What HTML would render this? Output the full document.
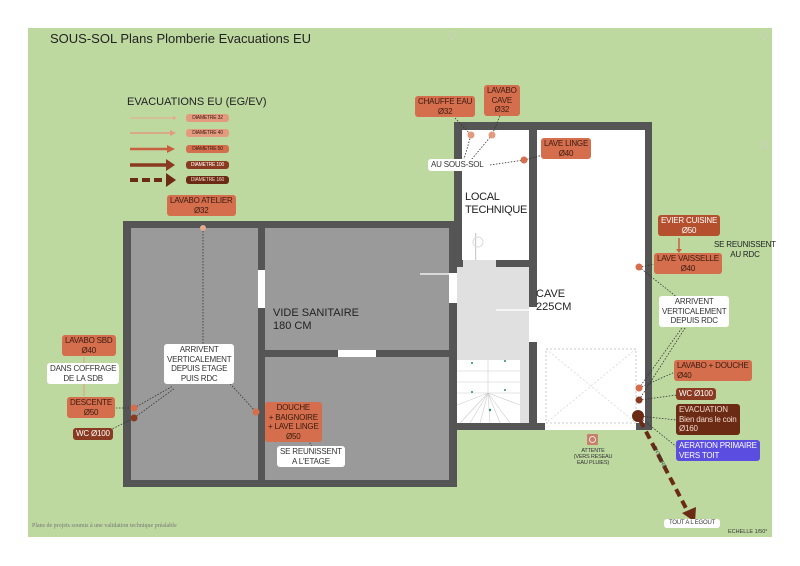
<!DOCTYPE html>
<html><head><meta charset="utf-8"><style>
body{margin:0;width:800px;height:566px;background:#fff;position:relative;overflow:hidden;font-family:"Liberation Sans",sans-serif}
.a{position:absolute}
.l{position:absolute;font-size:8px;line-height:9.5px;text-align:center;border-radius:3px;padding:1px 3px;box-sizing:border-box;color:#3a1a10;white-space:nowrap;letter-spacing:-0.2px}
.s{background:#e39a7f}.m{background:#d46e4c}.d{background:#8a3a20;color:#fff}.dd{background:#6b2a14;color:#f3d9cc}
.w{background:#fff;color:#333}
</style></head><body>
<div class="a" style="left:28px;top:28px;width:744px;height:509px;background:#bdd9a0"></div>
<svg class="a" style="left:0;top:0" width="800" height="566">
<rect x="123" y="221" width="334" height="266" fill="#555"/>
<rect x="131" y="228" width="127" height="252" fill="#9a9a9a"/>
<rect x="265" y="228" width="184" height="122" fill="#9a9a9a"/>
<rect x="265" y="357" width="184" height="123" fill="#9a9a9a"/>
<rect x="258" y="270" width="7" height="38" fill="#fff"/>
<rect x="338" y="350" width="38" height="7" fill="#fff"/>
<rect x="454" y="122" width="198" height="308" fill="#555"/>
<rect x="462" y="130" width="67" height="130" fill="#fff"/>
<rect x="537" y="130" width="108" height="293" fill="#fff"/>
<rect x="457" y="267" width="72" height="156" fill="#e0e0e0"/>
<rect x="463" y="260" width="33" height="7" fill="#e0e0e0"/>
<rect x="449" y="273" width="8" height="30" fill="#fff"/>
<rect x="529" y="307" width="8" height="35" fill="#fff"/>
<rect x="545" y="423" width="91" height="7" fill="#fff"/>
<rect x="457" y="430" width="188" height="57" fill="#bdd9a0"/>
<rect x="449" y="430" width="8" height="57" fill="#555"/>
<rect x="546" y="349" width="90" height="74" fill="none" stroke="#bbb" stroke-dasharray="2,2" stroke-width="0.8"/>
<line x1="546" y1="349" x2="636" y2="423" stroke="#ccc" stroke-dasharray="2,2" stroke-width="0.6"/>
<line x1="636" y1="349" x2="546" y2="423" stroke="#ccc" stroke-dasharray="2,2" stroke-width="0.6"/>
<line x1="420" y1="274" x2="449" y2="274" stroke="#fff" stroke-width="1.2"/>
<line x1="496" y1="310" x2="529" y2="310" stroke="#fff" stroke-width="1.2"/>
<rect x="475" y="233" width="1.2" height="27" fill="#ccc"/>
<circle cx="478" cy="242" r="5" fill="none" stroke="#ddd"/>
<rect x="457" y="360" width="63" height="63" fill="#fff"/>
<g stroke="#ccc" stroke-width="0.6">
<line x1="488" y1="360" x2="488" y2="393"/><line x1="457" y1="371" x2="520" y2="371"/><line x1="457" y1="382" x2="520" y2="382"/><line x1="457" y1="393" x2="520" y2="393"/>
<line x1="488" y1="393" x2="457" y2="405"/><line x1="488" y1="393" x2="460" y2="423"/><line x1="488" y1="393" x2="470" y2="423"/><line x1="488" y1="393" x2="480" y2="423"/><line x1="488" y1="393" x2="490" y2="423"/><line x1="488" y1="393" x2="500" y2="423"/><line x1="488" y1="393" x2="510" y2="423"/><line x1="488" y1="393" x2="520" y2="405"/></g>
<g fill="#2a8a6a"><circle cx="472" cy="363" r="1"/><circle cx="505" cy="361" r="1"/><circle cx="472" cy="392" r="1"/><circle cx="505" cy="390" r="1"/><circle cx="490" cy="410" r="1.2"/></g>
<g><line x1="130" y1="118" x2="173" y2="118" stroke="#e6a88e" stroke-width="1"/><polygon points="173,116 177,118 173,120" fill="#e6a88e"/>
<line x1="130" y1="133" x2="170" y2="133" stroke="#e39a7f" stroke-width="1.5"/><polygon points="170,130 176,133 170,136" fill="#e39a7f"/>
<line x1="130" y1="149" x2="168" y2="149" stroke="#c8603e" stroke-width="2.5"/><polygon points="167,145 175,149 167,153" fill="#c8603e"/>
<line x1="130" y1="165" x2="167" y2="165" stroke="#8a3a20" stroke-width="3.5"/><polygon points="166,159 175,165 166,171" fill="#8a3a20"/>
<line x1="130" y1="180" x2="166" y2="180" stroke="#6b2a14" stroke-width="4" stroke-dasharray="8,4"/><polygon points="166,173 176,180 166,187" fill="#6b2a14"/></g>
<g stroke="#333" stroke-width="0.8" stroke-dasharray="1.5,1.5" fill="none">
<line x1="455" y1="118" x2="471" y2="135"/><line x1="500" y1="116" x2="492" y2="135"/>
<line x1="462" y1="166" x2="471" y2="135"/><line x1="466" y1="166" x2="492" y2="135"/>
<line x1="490" y1="165" x2="524" y2="160"/><line x1="524" y1="160" x2="543" y2="155"/>
<line x1="203" y1="228" x2="203" y2="345"/>
<line x1="98" y1="408" x2="134" y2="408"/><line x1="110" y1="430" x2="134" y2="418"/>
<line x1="134" y1="408" x2="173" y2="386"/><line x1="134" y1="418" x2="175" y2="388"/>
<line x1="224" y1="377" x2="256" y2="412"/><line x1="305" y1="435" x2="313" y2="448"/>
<line x1="639" y1="267" x2="656" y2="264"/><line x1="639" y1="267" x2="683" y2="302"/>
<line x1="639" y1="388" x2="684" y2="325"/><line x1="639" y1="400" x2="687" y2="325"/><line x1="639" y1="388" x2="675" y2="372"/>
<line x1="639" y1="400" x2="677" y2="395"/><line x1="638" y1="416" x2="677" y2="420"/><line x1="638" y1="416" x2="677" y2="447"/>
</g>
<line x1="679" y1="238" x2="679" y2="250" stroke="#c8603e" stroke-width="1.5"/><polygon points="676,249 679,253 682,249" fill="#c8603e"/>
<line x1="84" y1="357" x2="84" y2="396" stroke="#e39a7f" stroke-width="1"/>
<line x1="640" y1="420" x2="688" y2="512" stroke="#6b2a14" stroke-width="4" stroke-dasharray="8,5"/><polygon points="682,513 695,522 696,507" fill="#6b2a14"/>
<text x="0" y="0" font-size="5" fill="#333" transform="translate(653,447) rotate(64)" font-family="Liberation Sans">ENTERRÉ</text>
<circle cx="471" cy="135" r="3.5" fill="#e39a7f"/><circle cx="492" cy="135" r="3.5" fill="#e39a7f"/>
<circle cx="524" cy="160" r="3.5" fill="#d46e4c"/><circle cx="203" cy="228" r="3" fill="#e6a88e"/>
<circle cx="134" cy="408" r="3.5" fill="#d46e4c"/><circle cx="134" cy="418" r="3.5" fill="#8a3a20"/>
<circle cx="256" cy="412" r="3.5" fill="#d46e4c"/><circle cx="639" cy="267" r="3.5" fill="#d46e4c"/>
<circle cx="639" cy="388" r="3.5" fill="#d46e4c"/><circle cx="639" cy="400" r="3.5" fill="#8a3a20"/>
<circle cx="638" cy="416" r="6" fill="#6b2a14"/>
<rect x="587" y="434" width="11" height="11" fill="#c8806a" rx="1"/><circle cx="592.5" cy="439.5" r="3" fill="none" stroke="#fff" stroke-width="0.8"/>
<g fill="none" stroke="#ccc" stroke-width="0.6"><rect x="449" y="32" width="6" height="6"/><rect x="761" y="32" width="6" height="6"/><rect x="761" y="142" width="6" height="6"/></g>
</svg>
<div class="a" style="left:50px;top:31px;font-size:13px;color:#222">SOUS-SOL Plans Plomberie Evacuations EU</div>
<div class="a" style="left:127px;top:96px;font-size:11px;color:#222">EVACUATIONS EU (EG/EV)</div>
<div class="l s" style="left:186px;top:114px;font-size:5px;line-height:6px;width:43px">DIAMETRE 32</div>
<div class="l s" style="left:186px;top:129px;font-size:5px;line-height:6px;width:43px">DIAMETRE 40</div>
<div class="l m" style="left:186px;top:145px;font-size:5px;line-height:6px;width:43px">DIAMETRE 50</div>
<div class="l d" style="left:186px;top:161px;font-size:5px;line-height:6px;width:43px">DIAMETRE 100</div>
<div class="l dd" style="left:186px;top:176px;font-size:5px;line-height:6px;width:43px">DIAMETRE 160</div>
<div class="l m" style="left:415px;top:96px">CHAUFFE EAU<br>Ø32</div>
<div class="l m" style="left:484px;top:85px">LAVABO<br>CAVE<br>Ø32</div>
<div class="l m" style="left:541px;top:138px">LAVE LINGE<br>Ø40</div>
<div class="l w" style="left:428px;top:159px">AU SOUS-SOL</div>
<div class="a" style="left:465px;top:191px;font-size:11px;line-height:13px;color:#222;letter-spacing:-0.3px">LOCAL<br>TECHNIQUE</div>
<div class="l m" style="left:167px;top:195px">LAVABO ATELIER<br>Ø32</div>
<div class="a" style="left:273px;top:307px;font-size:11px;line-height:13px;color:#222">VIDE SANITAIRE<br>180 CM</div>
<div class="a" style="left:536px;top:288px;font-size:11px;line-height:13px;color:#222">CAVE<br>225CM</div>
<div class="l d" style="left:658px;top:215px;background:#b5502e">EVIER CUISINE<br>Ø50</div>
<div class="l m" style="left:654px;top:253px">LAVE VAISSELLE<br>Ø40</div>
<div class="l" style="left:711px;top:239px;color:#222">SE REUNISSENT<br>AU RDC</div>
<div class="l w" style="left:659px;top:296px">ARRIVENT<br>VERTICALEMENT<br>DEPUIS RDC</div>
<div class="l m" style="left:674px;top:360px;text-align:left">LAVABO + DOUCHE<br>Ø40</div>
<div class="l d" style="left:676px;top:388px">WC Ø100</div>
<div class="l dd" style="left:676px;top:404px;text-align:left">EVACUATION<br>Bien dans le coin<br>Ø160</div>
<div class="l" style="left:676px;top:440px;text-align:left;background:#5a4de0;color:#fff">AERATION PRIMAIRE<br>VERS TOIT</div>
<div class="l" style="left:566px;top:447px;width:54px;font-size:5.5px;line-height:6px;color:#333">ATTENTE<br>(VERS RESEAU<br>EAU PLUIES)</div>
<div class="l w" style="left:664px;top:519px;width:56px;font-size:6px;line-height:7px">TOUT A L EGOUT</div>
<div class="a" style="left:728px;top:529px;font-size:5.5px;color:#333">ECHELLE 1/50°</div>
<div class="l m" style="left:62px;top:335px">LAVABO SBD<br>Ø40</div>
<div class="l w" style="left:47px;top:363px">DANS COFFRAGE<br>DE LA SDB</div>
<div class="l m" style="left:67px;top:397px">DESCENTE<br>Ø50</div>
<div class="l d" style="left:73px;top:428px">WC Ø100</div>
<div class="l w" style="left:164px;top:344px">ARRIVENT<br>VERTICALEMENT<br>DEPUIS ETAGE<br>PUIS RDC</div>
<div class="l m" style="left:265px;top:402px">DOUCHE<br>+ BAIGNOIRE<br>+ LAVE LINGE<br>Ø50</div>
<div class="l w" style="left:277px;top:446px">SE REUNISSENT<br>A L'ETAGE</div>
<div class="a" style="left:32px;top:523px;font-size:6px;color:#777;font-family:'Liberation Serif',serif">Plans de projets soumis à une validation technique préalable</div>
</body></html>
